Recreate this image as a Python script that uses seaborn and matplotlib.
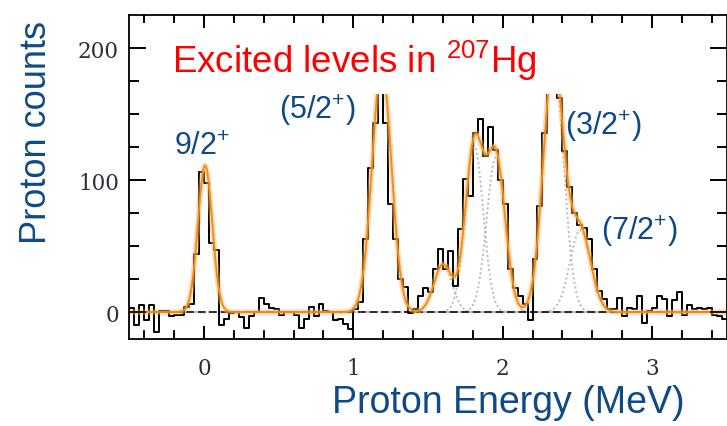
import numpy as np
import pandas as pd
import matplotlib
matplotlib.use("Agg")
import matplotlib.pyplot as plt
import seaborn as sns
from matplotlib.patches import Rectangle
from matplotlib.transforms import blended_transform_factory
from matplotlib.ticker import FixedLocator

# ---------------- data ----------------
bin_start = -0.5          # MeV, left edge of first bin
bin_width = 1.0 / 30.0    # MeV
counts = [3, -10, 5, -6, 5, -15, 1, 1, -3, -2,
          -2, 4, 6, 44, 106, 98, 52, 47, -10, -5,
          -1, 0, -4, -12, -3, 0, 11, 6, 3, 2,
          -2, 0, 0, -2, -12, -5, 4, -3, 6, 1,
          0, -6, -5, -9, -13, 2, 8, 55, 109, 143,
          200, 143, 82, 55, 25, 19, -1, 2, 12, 18,
          15, 33, 48, 33, 46, 20, 63, 101, 88, 136,
          146, 118, 140, 123, 100, 82, 33, 18, 12, 6,
          -6, 40, 80, 136, 180, 192, 162, 122, 95, 75,
          66, 64, 55, 33, 16, 10, 2, 2, 11, -3,
          3, 2, 12, -8, 1, 3, 12, 10, -3, 9,
          15, -2, 5, 2, 3, 2, 3, -2, -3, -5]

# fitted peak components (centre MeV, height counts, sigma MeV)
peak_centers = [0.007, 1.19, 1.60, 1.81, 1.955, 2.34, 2.52]
peak_heights = [111, 185, 36, 126, 117, 190, 62]
peak_sigmas = [0.048, 0.065, 0.06, 0.06, 0.062, 0.068, 0.07]

level_labels = ["9/2$^{\\mathregular{+}}$", "(5/2$^{\\mathregular{+}}$)",
                "(3/2$^{\\mathregular{+}}$)", "(7/2$^{\\mathregular{+}}$)"]
x_ticks = [0, 1, 2, 3]
x_minor_ticks = [-0.4, -0.2, 0.2, 0.4, 0.6, 0.8, 1.2, 1.4, 1.6, 1.8,
                 2.2, 2.4, 2.6, 2.8, 3.2, 3.4]
y_ticks = [0, 100, 200]
y_minor_ticks = [25, 50, 75, 125, 150, 175]

# ---------------- style ----------------
sns.set_theme(style="ticks")
plt.rcParams["font.family"] = ["Liberation Sans", "DejaVu Sans"]
plt.rcParams["mathtext.fontset"] = "dejavusans"
plt.rcParams["xtick.direction"] = "in"
plt.rcParams["ytick.direction"] = "in"
plt.rcParams["axes.axisbelow"] = False

W, H = 727, 427
fig = plt.figure(figsize=(W / 100, H / 100), dpi=100)
ax_left, ax_right, ax_top, ax_bot = 129.4, 726.6, 16.0, 339.5
ax = fig.add_axes([ax_left / W, 1 - ax_bot / H,
                   (ax_right - ax_left) / W, (ax_bot - ax_top) / H])

edges = bin_start + bin_width * np.arange(len(counts) + 1)
step_df = pd.DataFrame({"energy": edges,
                        "counts": list(counts) + [counts[-1]]})

# histogram (step outline)
sns.lineplot(data=step_df, x="energy", y="counts", drawstyle="steps-post",
             color="black", linewidth=1.4, estimator=None, ax=ax, zorder=3)

# zero baseline
ax.axhline(0, color="black", linewidth=1.1, dashes=(5, 2.5), zorder=2.5)

# fit components and total
xs = np.linspace(-0.5, 3.5, 1601)
comps = [h * np.exp(-0.5 * ((xs - c) / s) ** 2)
         for c, h, s in zip(peak_centers, peak_heights, peak_sigmas)]
total = np.sum(comps, axis=0)
for comp in comps:
    sns.lineplot(x=xs, y=comp, color="#b9b9b9", linewidth=1.4,
                 linestyle=(0, (1, 1.4)), estimator=None,
                 ax=ax, zorder=2)
sns.lineplot(x=xs, y=total, color="#f8b46a", alpha=0.45, linewidth=4.0,
             estimator=None, ax=ax, zorder=4)
sns.lineplot(x=xs, y=total, color="#f28c12", linewidth=1.3,
             estimator=None, ax=ax, zorder=5)

# white text box of the slide covering the peak tops
tr = blended_transform_factory(ax.transAxes, ax.transData)
ax.add_patch(Rectangle((0.06, 165.5), 0.88, 45, transform=tr,
                       facecolor="white", edgecolor="none", zorder=7))

ax.set_xlim(-0.5, 3.5)
ax.set_ylim(-20, 225)
ax.set_xlabel("")
ax.set_ylabel("")

ax.xaxis.set_major_locator(FixedLocator(x_ticks))
ax.xaxis.set_minor_locator(FixedLocator(x_minor_ticks))
ax.yaxis.set_major_locator(FixedLocator(y_ticks))
ax.yaxis.set_minor_locator(FixedLocator(y_minor_ticks))
ax.tick_params(which="both", direction="in", top=True, right=True,
               bottom=True, left=True, width=1.2, color="black")
ax.tick_params(axis="x", which="major", length=9.5, pad=13.5)
ax.tick_params(axis="x", which="minor", length=6)
ax.tick_params(axis="y", which="major", length=12, pad=7.5)
ax.tick_params(axis="y", which="minor", length=7)
for lab in ax.get_xticklabels() + ax.get_yticklabels():
    lab.set_fontfamily("DejaVu Serif")
    lab.set_fontsize(15.5)
    lab.set_color("#2e2e3c")
for sp in ax.spines.values():
    sp.set_linewidth(1.3)
    sp.set_color("black")
    sp.set_visible(True)
    sp.set_zorder(8)

# inward tick marks on all four sides, drawn as short line segments
tx = blended_transform_factory(ax.transData, ax.transAxes)
ty = blended_transform_factory(ax.transAxes, ax.transData)
tick_kw = dict(colors="black", linewidth=1.2, clip_on=False, zorder=9)
for pos, frac in ((x_ticks, 0.040), (x_minor_ticks, 0.026)):
    ax.vlines(pos, 0, frac, transform=tx, **tick_kw)
    ax.vlines(pos, 1 - frac, 1, transform=tx, **tick_kw)
for pos, frac in ((y_ticks, 0.028), (y_minor_ticks, 0.016)):
    ax.hlines(pos, 0, frac, transform=ty, **tick_kw)
    ax.hlines(pos, 1 - frac, 1, transform=ty, **tick_kw)
ax.set_xlim(-0.5, 3.5)
ax.set_ylim(-20, 225)

blue = "#0f4a86"
# title
fig.text(172 / W, 1 - 73 / H, "Excited levels in $^{\\mathregular{207}}$Hg",
         color="#ff0000", fontsize=26.5, ha="left", va="baseline")
# level labels
label_pos = [(174, 155), (279, 119), (565, 135), (601, 240)]
for txt, (px, py) in zip(level_labels, label_pos):
    fig.text(px / W, 1 - py / H, txt, color=blue, fontsize=22,
             ha="left", va="baseline")

# axis titles
fig.text(37 / W, 1 - 132 / H, "Proton counts", color=blue, fontsize=26,
         rotation=90, ha="center", va="center")
fig.text(508 / W, 1 - 413 / H, "Proton Energy (MeV)", color=blue,
         fontsize=27, ha="center", va="baseline")

fig.savefig("out.png", dpi=100)
